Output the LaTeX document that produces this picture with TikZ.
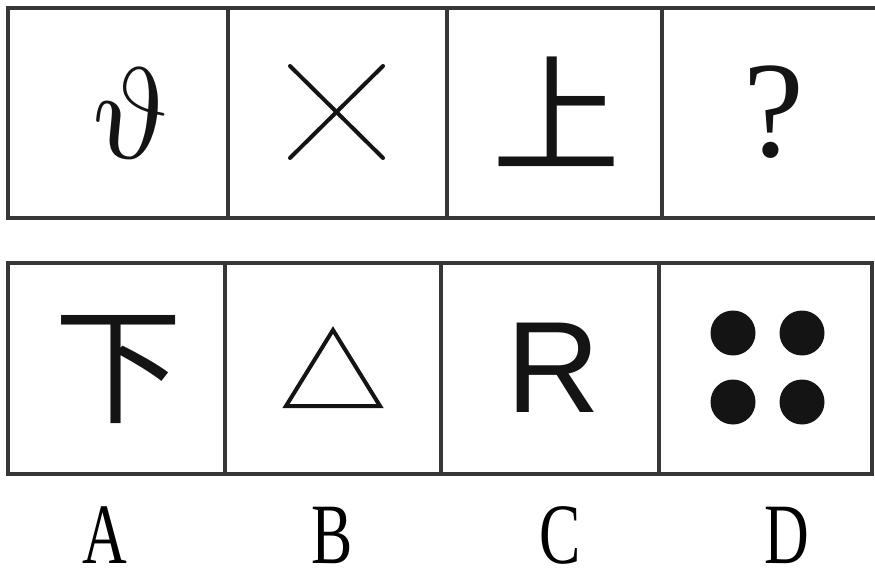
\documentclass[tikz,border=0pt]{standalone}
\usepackage{fontspec}
\usepackage{tikz}
\newfontfamily\cjkfont{Noto Sans CJK SC}
\newfontfamily\serifglyph{Liberation Serif}
\newfontfamily\sansglyph{Liberation Sans}
\newfontfamily\labelfont[FakeStretch=0.72]{Liberation Serif}
\definecolor{framegray}{RGB}{55, 55, 55}
\definecolor{inkblack}{RGB}{20, 20, 20}

\begin{document}
\begin{tikzpicture}[x=1pt, y=-1pt,
  cell/.style={draw=framegray, line width=4pt, minimum height=210pt, inner sep=0pt},
  sym/.style={inner sep=0pt, text=inkblack},
  figline/.style={draw=inkblack, line width=4pt, line cap=round},
  optlabel/.style={inner sep=0pt, text=black, font=\labelfont\fontsize{86}{86}\selectfont}
]
\useasboundingbox (0,0) rectangle (875,577);

% Question row
\node[cell, minimum width=220pt] (q1) at (118, 113) {};
\node[cell, minimum width=219pt] (q2) at (337.5, 113) {};
\node[cell, minimum width=215pt] (q3) at (554.5, 113) {};
\node[cell, minimum width=218pt] (q4) at (771, 113) {};

\node[sym, scale=13, xslant=-0.15] (theta) at (130, 113) {$\vartheta$};
\draw[figline] (290, 66) -- (383, 158);
\draw[figline] (383, 66) -- (290, 158);
\node[sym, font=\cjkfont\fontsize{128}{128}\selectfont] (shang) at (556, 112) {上};
\node[sym, font=\serifglyph\fontsize{137}{137}\selectfont] (quest) at (774, 112) {?};

% Answer row
\node[cell, minimum width=217pt, minimum height=211pt] (a1) at (116.5, 368.5) {};
\node[cell, minimum width=216pt, minimum height=211pt] (a2) at (333, 368.5) {};
\node[cell, minimum width=218pt, minimum height=211pt] (a3) at (550, 368.5) {};
\node[cell, minimum width=213pt, minimum height=211pt] (a4) at (765.5, 368.5) {};

\node[sym, font=\cjkfont\fontsize{128}{128}\selectfont] (xia) at (118, 370) {下};
\draw[figline, line join=miter] (333, 330) -- (286, 406) -- (380, 406) -- cycle;
\node[sym, font=\sansglyph\fontsize{130}{130}\selectfont] (rletter) at (553, 368) {R};
\foreach \dx/\dy in {733/333, 802/333, 733/402, 802/402}
  \fill[inkblack] (\dx, \dy) circle (22.5pt);

% Option labels
\node[optlabel] (labA) at (105, 535) {A};
\node[optlabel] (labB) at (332, 535) {B};
\node[optlabel] (labC) at (560, 535) {C};
\node[optlabel] (labD) at (787, 535) {D};

\end{tikzpicture}
\end{document}
